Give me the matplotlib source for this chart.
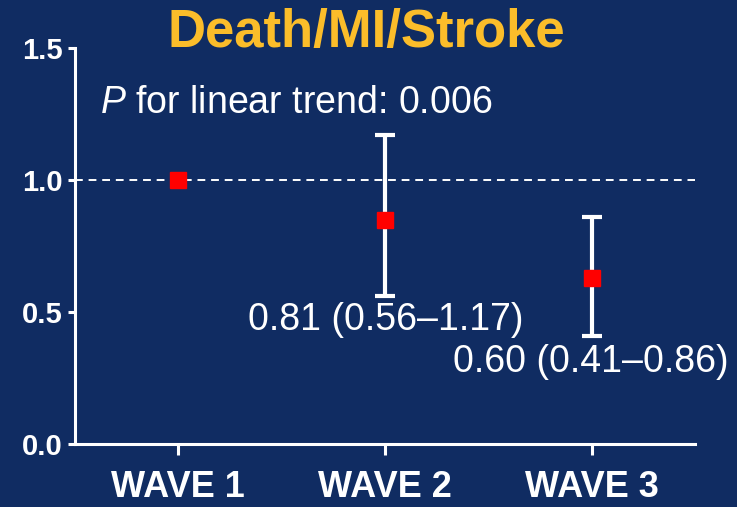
import matplotlib.pyplot as plt

# data
waves = ['WAVE 1', 'WAVE 2', 'WAVE 3']
hr_points = [1.0, 0.85, 0.63]
ci_low = [None, 0.56, 0.41]
ci_high = [None, 1.17, 0.86]
ci_labels = ['', '0.81 (0.56\u20131.17)', '0.60 (0.41\u20130.86)']
y_ticks = [0.0, 0.5, 1.0, 1.5]

bg = '#102c62'
gold = '#fbbd2a'

plt.rcParams['font.family'] = ['Liberation Sans', 'DejaVu Sans']
plt.rcParams['mathtext.fontset'] = 'custom'
plt.rcParams['mathtext.it'] = 'Liberation Sans:italic'
plt.rcParams['mathtext.rm'] = 'Liberation Sans'

fig = plt.figure(figsize=(7.37, 5.07), dpi=100, facecolor=bg)
ax = fig.add_axes([75 / 737, 63 / 507, 620 / 737, 396 / 507])
ax.set_facecolor(bg)

x = [1, 2, 3]

# reference line at 1.0
ax.axhline(1.0, color='white', lw=1.4, ls=(0, (4, 3)), zorder=1)

# confidence intervals
for xi, lo, hi in zip(x, ci_low, ci_high):
    if lo is None:
        continue
    ax.errorbar([xi], [(lo + hi) / 2], yerr=[[(hi - lo) / 2], [(hi - lo) / 2]],
                fmt='none', ecolor='white', elinewidth=3, capsize=7,
                capthick=3, zorder=2)

ax.plot(x, hr_points, ls='none', marker='s', ms=11.5, color='#ff0000',
        mec='#ff0000', zorder=3)

# CI annotations
ax.text(2.67, 0.432, ci_labels[1], color='white', fontsize=27,
        ha='right', va='baseline')
ax.text(3.665, 0.273, ci_labels[2], color='white', fontsize=27,
        ha='right', va='baseline', clip_on=False)

ax.text(0.622, 1.254, r'$\mathit{P}$ for linear trend: 0.006', color='white',
        fontsize=27, ha='left', va='baseline')

fig.text(366 / 737, 1 - 47 / 507, 'Death/MI/Stroke', color=gold, fontsize=38,
         fontweight='bold', ha='center', va='baseline')

ax.set_xlim(0.5, 3.5)
ax.set_ylim(0, 1.5)
ax.set_xticks(x)
ax.set_xticklabels(waves)
ax.set_yticks(y_ticks)
ax.set_yticklabels([f'{t:.1f}' for t in y_ticks])

for side in ['top', 'right']:
    ax.spines[side].set_visible(False)
for side in ['left', 'bottom']:
    ax.spines[side].set_color('white')
    ax.spines[side].set_linewidth(2.2)

ax.tick_params(axis='y', colors='white', length=5, width=2.2, pad=4,
               labelsize=21)
ax.tick_params(axis='x', colors='white', length=8, width=2.2, pad=11,
               labelsize=26)
for lbl in ax.get_xticklabels() + ax.get_yticklabels():
    lbl.set_fontweight('bold')

plt.savefig('out.png', dpi=100, facecolor=bg)
